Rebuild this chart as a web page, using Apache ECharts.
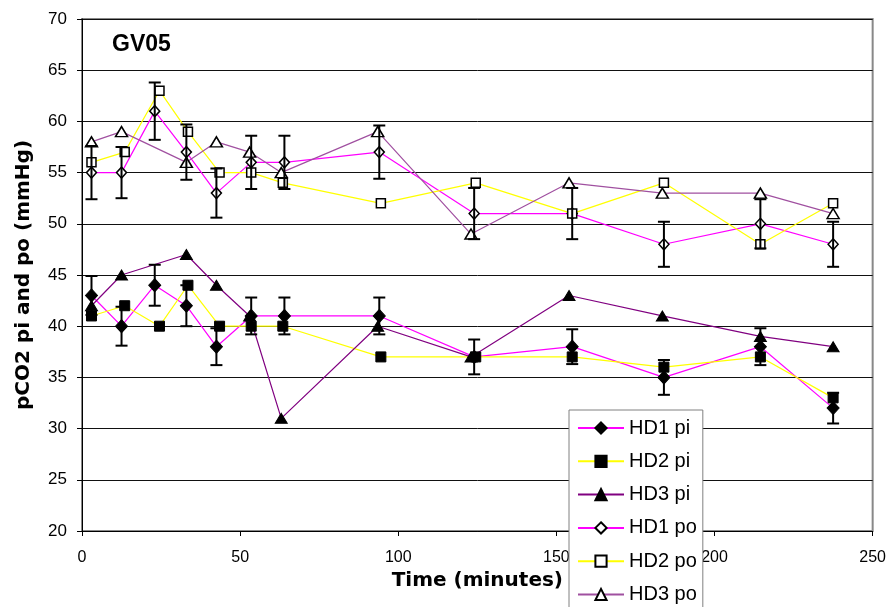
<!DOCTYPE html>
<html>
<head>
<meta charset="utf-8">
<script src="https://cdn.jsdelivr.net/npm/echarts@6/dist/echarts.min.js"></script>
<style>
  html, body { margin: 0; padding: 0; background: #fff; }
  #chart { width: 889px; height: 607px; }
</style>
</head>
<body>
<div id="chart"></div>
<script>
// Sampling times (minutes) for each dialyser
const timesHD1 = [3, 12.5, 23, 33, 42.5, 53.5, 64, 94, 124, 155, 184, 214.5, 237.5];
const timesHD2 = [3, 13.5, 24.5, 33.5, 43.5, 53.5, 63.5, 94.5, 124.5, 155, 184, 214.5, 237.5];
const timesHD3 = [3, 12.5, 33, 42.5, 53, 63, 93.5, 123, 154, 183.5, 214.5, 237.5];

// pCO2 (mmHg), inlet (pi) and outlet (po)
const hd1Pi = [43, 40, 44, 42, 38, 41, 41, 41, 37, 38, 35, 38, 32];
const hd2Pi = [41, 42, 40, 44, 40, 40, 40, 37, 37, 37, 36, 37, 33];
const hd3Pi = [42, 45, 47, 44, 41, 31, 40, 37, 43, 41, 39, 38];
const hd1Po = [55, 55, 61, 57, 53, 56, 56, 57, 51, 51, 48, 50, 48];
const hd2Po = [56, 57, 63, 59, 55, 55, 54, 52, 54, 51, 54, 48, 52];
const hd3Po = [58, 59, 56, 58, 57, 55, 59, 49, 54, 53, 53, 51];

// Error bar half-widths for HD1
const hd1PiErr = [1.9, 1.9, 2.0, 2.0, 1.8, 1.8, 1.8, 1.8, 1.7, 1.7, 1.7, 1.8, 1.5];
const hd1PoErr = [2.6, 2.5, 2.8, 2.7, 2.4, 2.6, 2.6, 2.6, 2.5, 2.5, 2.2, 2.4, 2.2];

// Axis ticks
const xTicks = { min: 0, max: 250, interval: 50 };
const yTicks = { min: 20, max: 70, interval: 5 };

const pairs = (xs, ys) => xs.map((x, i) => [x, ys[i]]);
const errRows = (xs, ys, es) => xs.map((x, i) => [x, ys[i] - es[i], ys[i] + es[i]]);

function errorBar(params, api) {
  const x = api.value(0);
  const top = api.coord([x, api.value(2)]);
  const bot = api.coord([x, api.value(1)]);
  const hw = 6;
  const st = { stroke: '#000', lineWidth: 2 };
  return {
    type: 'group',
    children: [
      { type: 'line', shape: { x1: top[0], y1: top[1], x2: bot[0], y2: bot[1] }, style: st },
      { type: 'line', shape: { x1: top[0] - hw, y1: top[1], x2: top[0] + hw, y2: top[1] }, style: st },
      { type: 'line', shape: { x1: bot[0] - hw, y1: bot[1], x2: bot[0] + hw, y2: bot[1] }, style: st }
    ]
  };
}

function lineSeries(name, data, lineColor, symbol, size, filled) {
  return {
    name: name,
    type: 'line',
    data: data,
    symbol: symbol,
    symbolSize: size,
    showAllSymbol: true,
    z: filled ? 3 : 2,
    lineStyle: { color: lineColor, width: 1.2 },
    itemStyle: filled
      ? { color: '#000', borderColor: '#000', borderWidth: 1 }
      : { color: '#fff', borderColor: '#000', borderWidth: 1.5 },
    emphasis: { disabled: true },
    animation: false
  };
}

const chart = echarts.init(document.getElementById('chart'));
chart.setOption({
  animation: false,
  backgroundColor: '#fff',
  textStyle: { fontFamily: 'Liberation Sans' },
  title: {
    text: 'GV05',
    left: 112,
    top: 33,
    padding: 0,
    textStyle: { fontFamily: 'Liberation Sans', fontWeight: 'bold', fontSize: 23, color: '#000' }
  },
  grid: {
    left: 82, right: 16, top: 19, bottom: 76,
    show: true, borderColor: '#888', borderWidth: 2, backgroundColor: 'transparent'
  },
  xAxis: {
    type: 'value',
    min: xTicks.min, max: xTicks.max, interval: xTicks.interval,
    name: 'Time (minutes)',
    nameLocation: 'middle',
    nameGap: 35,
    nameTextStyle: { fontFamily: 'DejaVu Sans', fontWeight: 'bold', fontSize: 20, color: '#000' },
    axisLine: { onZero: false, lineStyle: { color: '#000', width: 1 } },
    axisTick: { show: true, length: 5, lineStyle: { color: '#000' } },
    axisLabel: { margin: 19, fontSize: 16, color: '#000' },
    splitLine: { show: false }
  },
  yAxis: {
    type: 'value',
    min: yTicks.min, max: yTicks.max, interval: yTicks.interval,
    name: 'pCO2 pi and po (mmHg)',
    nameLocation: 'middle',
    nameGap: 48,
    nameTextStyle: { fontFamily: 'DejaVu Sans', fontWeight: 'bold', fontSize: 20, color: '#000' },
    axisLine: { show: true, lineStyle: { color: '#000', width: 1 } },
    axisTick: { show: true, length: 5, lineStyle: { color: '#000' } },
    axisLabel: { margin: 15, fontSize: 17, color: '#000' },
    splitLine: { show: true, lineStyle: { color: '#111', width: 1 } }
  },
  legend: {
    orient: 'vertical',
    left: 569,
    top: 410,
    height: 260,
    padding: [8, 6, 8, 8],
    itemWidth: 46,
    itemHeight: 14,
    itemGap: 13.3,
    backgroundColor: '#fff',
    borderColor: '#808080',
    borderWidth: 1,
    borderRadius: 0,
    selectedMode: false,
    textStyle: { fontFamily: 'Liberation Sans', fontSize: 20, lineHeight: 20, color: '#000' },
    data: ['HD1 pi', 'HD2 pi', 'HD3 pi', 'HD1 po', 'HD2 po', 'HD3 po']
  },
  series: [
    lineSeries('HD1 pi', pairs(timesHD1, hd1Pi), '#ff00ff', 'diamond', [12, 13], true),
    lineSeries('HD2 pi', pairs(timesHD2, hd2Pi), '#ffff00', 'rect', 10, true),
    lineSeries('HD3 pi', pairs(timesHD3, hd3Pi), '#800080', 'triangle', [12, 10], true),
    lineSeries('HD1 po', pairs(timesHD1, hd1Po), '#ff00ff', 'diamond', [10, 11], false),
    lineSeries('HD2 po', pairs(timesHD2, hd2Po), '#ffff00', 'rect', 9, false),
    lineSeries('HD3 po', pairs(timesHD3, hd3Po), '#a050a0', 'triangle', [12, 10], false),
    {
      type: 'custom', renderItem: errorBar, z: 4, silent: true,
      data: errRows(timesHD1, hd1Pi, hd1PiErr), animation: false
    },
    {
      type: 'custom', renderItem: errorBar, z: 4, silent: true,
      data: errRows(timesHD1, hd1Po, hd1PoErr), animation: false
    }
  ]
});
</script>
</body>
</html>
